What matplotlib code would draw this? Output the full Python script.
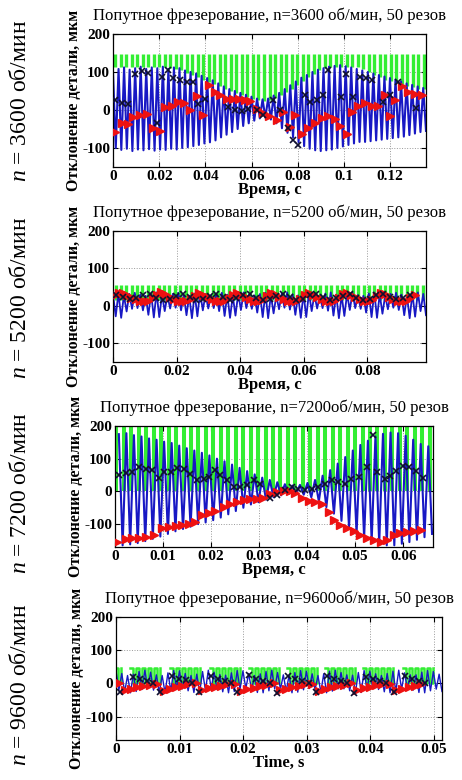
import matplotlib
matplotlib.use("Agg")
import matplotlib.pyplot as plt
import numpy as np

plt.rcParams["font.family"] = ["Liberation Serif", "DejaVu Serif"]
plt.rcParams["mathtext.fontset"] = "custom"
plt.rcParams["mathtext.rm"] = "Liberation Serif"
plt.rcParams["mathtext.it"] = "Liberation Serif:italic"

W, H = 462, 780

# common axis ticks
y_ticks = [-100, 0, 100, 200]
y_tick_labels = ["-100", "0", "100", "200"]

# ---------- panel 1: n = 3600 ----------
p1_blue_hi = [100, 108, 112, 106, 110, 114, 108, 112, 110, 114, 108, 112, 110,
              104, 100, 96, 90, 84, 78, 70, 62, 55, 50, 45, 40, 35, 30, 28, 30,
              38, 45, 55, 65, 75, 85, 92, 100, 106, 110, 114, 116, 118, 115, 112, 108,
              104, 100, 96, 92, 88, 84, 80, 75, 70, 66, 62, 58]
p1_blue_lo = [-100, -105, -102, -108, -104, -106, -103, -107, -104, -105, -102, -104, -100,
              -98, -95, -92, -88, -85, -80, -72, -65, -58, -50, -42, -35, -28, -22, -20, -25,
              -35, -48, -60, -72, -85, -95, -102, -106, -108, -106, -104, -100, -96, -92, -88, -84,
              -84, -82, -80, -78, -76, -74, -72, -70, -66, -62, -58, -55]
p1_green_top = 148
p1_green_lo = [112, 112, 112, 112, 112, 112, 112, 112, 112, 112, 110, 108, 104,
               98, 92, 86, 80, 74, 68, 62, 56, 50, 45, 40, 35, 30, 26, 24, 26,
               32, 40, 48, 56, 66, 76, 86, 96, 104, 110, 112, 112, 112, 112, 112, 112,
               108, 100, 92, 86, 80, 76, 72, 68, 64, 60, 56, 54]
p1_red_t = [0.0009, 0.0038, 0.0066, 0.0088, 0.0117, 0.0146, 0.0175, 0.0203, 0.0225, 0.0254,
            0.0283, 0.0309, 0.0333, 0.0362, 0.0391, 0.0417, 0.0442, 0.0463, 0.0492, 0.0521,
            0.0547, 0.0571, 0.0593, 0.0622, 0.0651, 0.0677, 0.0709, 0.0737, 0.0766, 0.0788,
            0.0817, 0.0846, 0.0874, 0.0903, 0.0932, 0.0961, 0.0983, 0.1012, 0.1033, 0.1062,
            0.1091, 0.1120, 0.1149, 0.1177, 0.1199, 0.1221, 0.1250, 0.1279, 0.1307, 0.1336]
p1_red_v = [-59, -35, -37, -19, -13, -10, -48, -55, 9, 10,
            22, 19, 0, 37, -13, 65, 48, 39, 30, 29,
            28, 27, 24, 2, -9, -16, -26, -4, -45, -14,
            -63, -48, -35, -22, -17, -24, -42, -63, -4, 10,
            19, 10, 10, 39, -17, 26, 63, 48, 42, 39]
p1_x_t = [0.0009, 0.0037, 0.0066, 0.0095, 0.0124, 0.0153, 0.0189, 0.0211, 0.0240, 0.0261,
          0.0290, 0.0319, 0.0345, 0.0370, 0.0398, 0.0499, 0.0528, 0.0557, 0.0586, 0.0622,
          0.0650, 0.0694, 0.0723, 0.0759, 0.0781, 0.0802, 0.0831, 0.0853, 0.0881, 0.0910,
          0.0932, 0.0988, 0.1010, 0.1040, 0.1068, 0.1097, 0.1120, 0.1168, 0.1197, 0.1232,
          0.1312]
p1_x_v = [26, 19, 17, 95, 102, 97, -35, 87, 106, 84,
          78, 74, 74, 17, 30, 9, 0, -2, 2, 0,
          -13, 26, 0, -48, -78, -91, 39, 22, 26, 39,
          106, 35, 95, 35, 88, 84, 78, 22, 39, 73,
          4]

# ---------- panel 2: n = 5200 ----------
p2_blue_hi = [30, 34, 28, 32, 35, 30, 27,
              33, 36, 30, 28, 32, 35, 29,
              27, 33, 36, 31, 28, 32, 35,
              30, 27, 33, 36, 30, 28, 32,
              35, 29, 27, 33, 36, 31, 28,
              32, 35, 30, 27, 33, 36, 30,
              28, 32, 35, 29, 27, 33, 36,
              31, 28, 32, 35, 30, 27, 33,
              36, 32]
p2_blue_lo = [-28, -32, -15, -8, -6, -12, -24,
              -31, -30, -14, -7, -5, -12, -25,
              -33, -28, -12, -7, -6, -14, -27,
              -32, -26, -11, -6, -8, -18, -30,
              -33, -20, -9, -5, -10, -24, -32,
              -30, -14, -7, -6, -13, -26, -33,
              -27, -11, -6, -8, -18, -30, -32,
              -21, -9, -5, -11, -25, -33, -29,
              -14, -25]
p2_green_top = 56
p2_green_lo = 15
p2_green_count = 58
p2_red_v = [28, 34, 35, 28, 22, 17, 13, 12, 14, 20, 28, 36, 31, 25, 19, 14, 12, 13,
            18, 27, 35, 30, 24, 18, 14, 12, 14, 20, 30, 35, 29, 23, 17, 13, 12, 16,
            26, 35, 31, 25, 19, 14, 12, 13, 18, 28, 35, 30, 24, 18, 14, 12, 14, 22,
            32, 35, 29, 23, 17, 13, 12, 16, 26, 35, 31, 25, 19, 14, 12, 14, 22, 30]
p2_x_v = [30, 25, 18, 20, 28, 33, 22, 15, 18, 26, 32, 24, 16, 19, 27, 31, 23, 15,
          20, 28, 33, 22, 16, 18, 27, 32, 24, 15, 19, 28, 33, 23, 16, 20, 27, 31,
          22, 15, 19, 28, 32, 24, 17, 21, 29]

# ---------- panel 3: n = 7200 ----------
p3_blue_hi = [175, 178, 172, 168, 162, 158, 152, 148, 140, 132,
              125, 118, 110, 100, 92, 82, 72, 62, 52, 42,
              35, 28, 22, 18, 20, 26, 35, 48, 65, 85,
              105, 125, 142, 155, 168, 176, 180, 178, 170, 158,
              145, 138]
p3_blue_lo = [-165, -162, -158, -152, -145, -138, -130, -122, -115, -108,
              -100, -95, -88, -80, -70, -60, -50, -40, -33, -25,
              -18, -12, -8, -6, -10, -18, -30, -48, -68, -90,
              -110, -128, -142, -152, -160, -165, -165, -160, -155, -148,
              -140, -130]
p3_green_top = 215
p3_green_lo = 0
p3_green_count = 43
p3_red_t = [0.0005, 0.0022, 0.0036, 0.0050, 0.0064, 0.0081, 0.0098, 0.0112, 0.0126, 0.0140,
            0.0154, 0.0167, 0.0181, 0.0195, 0.0209, 0.0226, 0.0240, 0.0254, 0.0268, 0.0281,
            0.0295, 0.0309, 0.0323, 0.0338, 0.0352, 0.0365, 0.0375, 0.0389, 0.0403, 0.0417,
            0.0431, 0.0445, 0.0455, 0.0469, 0.0483, 0.0497, 0.0511, 0.0525, 0.0539, 0.0553,
            0.0566, 0.0580, 0.0594, 0.0608, 0.0622, 0.0638]
p3_red_v = [-156, -146, -144, -143, -138, -132, -112, -108, -105, -103,
            -100, -94, -71, -66, -61, -49, -38, -33, -25, -22,
            -24, -20, -9, -2, 1, 2, -5, -20, -28, -32,
            -38, -62, -88, -102, -112, -122, -133, -143, -150, -155,
            -150, -133, -128, -125, -122, -117]
p3_x_t = [0.0008, 0.0022, 0.0036, 0.0050, 0.0064, 0.0078, 0.0091, 0.0102, 0.0116, 0.0129,
          0.0143, 0.0157, 0.0171, 0.0185, 0.0195, 0.0209, 0.0219, 0.0233, 0.0247, 0.0261,
          0.0275, 0.0289, 0.0302, 0.0323, 0.0337, 0.0354, 0.0368, 0.0382, 0.0396, 0.0410,
          0.0423, 0.0437, 0.0451, 0.0465, 0.0479, 0.0492, 0.0508, 0.0524, 0.0537, 0.0546,
          0.0562, 0.0572, 0.0586, 0.0599, 0.0613, 0.0627, 0.0641]
p3_x_v = [51, 57, 59, 74, 69, 64, 41, 59, 59, 71,
          67, 54, 34, 39, 44, 64, 49, 34, 13, 13,
          20, 34, 23, -20, -12, 3, 13, 8, 3, 6,
          13, 23, 34, 30, 23, 39, 44, 75, 171, 60,
          38, 48, 63, 79, 74, 63, 42]

# ---------- panel 4: n = 9600 ----------
p4_blue_hi = [38, 30, 24, 28, 36, 40, 34, 26, 24, 32,
              39, 38, 30, 24, 28, 36, 40, 34, 27, 25,
              32, 39, 38, 30, 24, 29, 36, 40, 33, 26,
              25, 33, 39, 37, 29, 24, 29, 37, 40, 33,
              26, 25, 33, 39, 37, 29, 24, 30, 37, 40,
              32, 26, 26, 34, 39, 36, 28]
p4_blue_lo = [-20, -26, -28, -24, -18, -15, -20, -27, -28, -22,
              -16, -16, -22, -27, -27, -21, -15, -18, -25, -28,
              -24, -17, -15, -20, -27, -28, -22, -16, -17, -23,
              -28, -26, -19, -15, -19, -26, -28, -23, -16, -16,
              -22, -27, -27, -20, -15, -18, -25, -28, -24, -17,
              -15, -20, -27, -28, -22, -17, -24]
p4_green_top = 47
p4_green_lo = 0
p4_burst_start = [-0.0039, 0.0022, 0.0085, 0.0148, 0.0209, 0.0269, 0.0329, 0.0389, 0.0452]
p4_burst_spikes = 5
p4_burst_period = 0.00095
p4_red_start = [0.0004, 0.0065, 0.0126, 0.0187, 0.0248, 0.0309, 0.0370, 0.0431]
p4_red_step = 0.00098
p4_red_v = [[0, -20, -16, -12, -8, -4],
            [-2, -22, -17, -12, -7, -3],
            [0, -20, -15, -11, -7, -3],
            [-1, -22, -18, -13, -8, -4],
            [0, -21, -16, -11, -7, -2],
            [-1, -22, -17, -12, -8, -4],
            [0, -20, -15, -11, -6, -3],
            [-1, -21, -16, -12, -7, -3]]
p4_x_t = [0.0006, 0.0027, 0.0038, 0.0049, 0.0059, 0.0069, 0.0088, 0.0099, 0.0110, 0.0120,
          0.0131, 0.0149, 0.0160, 0.0171, 0.0181, 0.0190, 0.0210, 0.0221, 0.0232, 0.0242,
          0.0253, 0.0271, 0.0282, 0.0293, 0.0303, 0.0314, 0.0332, 0.0343, 0.0354, 0.0364,
          0.0375, 0.0393, 0.0404, 0.0415, 0.0425, 0.0437, 0.0455, 0.0466, 0.0477, 0.0487]
p4_x_v = [-27, 20, 12, 6, 0, -27, 24, 14, 9, 2,
          -26, 22, 13, 7, 0, -27, 25, 15, 8, 1,
          -28, 23, 12, 6, 0, -27, 24, 14, 8, 2,
          -28, 21, 13, 7, 1, -27, 22, 12, 6, 0]

BLUE = "#1818c4"
GREEN = "#33ee33"
RED = "#ee1111"

fig = plt.figure(figsize=(W / 100, H / 100), dpi=100)


def zigzag(hi, lo):
    return [v for pair in zip(hi, lo) for v in pair]


def make_axes(box, xlim, ylim, xticks, xlabels):
    left, top, right, bottom = box
    ax = fig.add_axes([left / W, 1 - bottom / H, (right - left) / W, (bottom - top) / H])
    ax.set_xlim(xlim)
    ax.set_ylim(ylim)
    ax.set_xticks(xticks)
    ax.set_xticklabels(xlabels)
    ax.set_yticks(y_ticks)
    ax.set_yticklabels(y_tick_labels)
    ax.set_axisbelow(True)
    ax.grid(True, ls=":", color="0.6", lw=0.7)
    ax.tick_params(direction="in", top=True, right=True, length=3.5, width=0.8,
                   labelsize=11, pad=2)
    for lab in ax.get_xticklabels() + ax.get_yticklabels():
        lab.set_fontweight("bold")
    for sp in ax.spines.values():
        sp.set_linewidth(0.9)
    return ax


def panel_text(box, n_label, title, xlabel, ylab_x, n_y):
    left, top, right, bottom = box
    cx = (left + right) / 2
    cy = (top + bottom) / 2
    fig.text(cx / W, 1 - (top - 18) / H, title, ha="center", va="center", fontsize=12)
    fig.text(cx / W, 1 - (bottom + 23) / H, xlabel, ha="center", va="center",
             fontsize=12, fontweight="bold")
    fig.text(ylab_x / W, 1 - cy / H, "Отклонение детали, мкм", rotation=90,
             ha="center", va="center", fontsize=11.5, fontweight="bold")
    fig.text(21 / W, 1 - n_y / H, n_label, rotation=90, ha="center", va="center", fontsize=17)


def draw_markers(ax, red_t, red_v, x_t, x_v):
    ax.plot(red_t, red_v, ">", color=RED, ms=6, mec=RED, zorder=3)
    ax.plot(x_t, x_v, "x", color="#101030", ms=4.5, mew=1.2, zorder=4)


# ---- panel 1 ----
box1 = (113, 34, 426, 167)
ax1 = make_axes(box1, (0, 0.1355), (-150, 200), [0, 0.02, 0.04, 0.06, 0.08, 0.1, 0.12],
                ["0", "0.02", "0.04", "0.06", "0.08", "0.1", "0.12"])
ax1.vlines(np.linspace(0.0010, 0.1345, len(p1_green_lo)), p1_green_lo, p1_green_top,
           color=GREEN, lw=2.4, zorder=1)
y1 = zigzag(p1_blue_hi, p1_blue_lo)
ax1.plot(np.linspace(0, 0.1355, len(y1)), y1, color=BLUE, lw=1.5, zorder=2)
draw_markers(ax1, p1_red_t, p1_red_v, p1_x_t, p1_x_v)
panel_text(box1, "$n$ = 3600 об/мин", "Попутное фрезерование, n=3600 об/мин, 50 резов",
           "Время, с", 74, 101)

# ---- panel 2 ----
box2 = (113, 231, 426, 362)
ax2 = make_axes(box2, (0, 0.0985), (-150, 200), [0, 0.02, 0.04, 0.06, 0.08],
                ["0", "0.02", "0.04", "0.06", "0.08"])
ax2.vlines(np.linspace(0.0008, 0.0975, p2_green_count), p2_green_lo, p2_green_top,
           color=GREEN, lw=2.4, zorder=1)
y2 = zigzag(p2_blue_hi, p2_blue_lo)
ax2.plot(np.linspace(0, 0.0985, len(y2)), y2, color=BLUE, lw=1.3, zorder=2)
draw_markers(ax2, np.linspace(0.0005, 0.0949, len(p2_red_v)), p2_red_v,
             np.linspace(0.0010, 0.0934, len(p2_x_v)), p2_x_v)
panel_text(box2, "$n$ = 5200 об/мин", "Попутное фрезерование, n=5200 об/мин, 50 резов",
           "Время, с", 74, 298)

# ---- panel 3 ----
box3 = (115, 426, 433, 547)
ax3 = make_axes(box3, (0, 0.0662), (-170, 200), [0, 0.01, 0.02, 0.03, 0.04, 0.05, 0.06],
                ["0", "0.01", "0.02", "0.03", "0.04", "0.05", "0.06"])
ax3.vlines(np.linspace(0.0003, 0.0655, p3_green_count), p3_green_lo, p3_green_top,
           color=GREEN, lw=2.9, zorder=1)
y3 = zigzag(p3_blue_hi, p3_blue_lo)
ax3.plot(np.linspace(0.0008, 0.0660, len(y3)), y3, color=BLUE, lw=1.5, zorder=2)
draw_markers(ax3, p3_red_t, p3_red_v, p3_x_t, p3_x_v)
panel_text(box3, "$n$ = 7200 об/мин", "Попутное фрезерование, n=7200об/мин, 50 резов",
           "Время, с", 76, 493)

# ---- panel 4 ----
box4 = (116, 617, 442, 740)
ax4 = make_axes(box4, (0, 0.0513), (-170, 200), [0, 0.01, 0.02, 0.03, 0.04, 0.05],
                ["0", "0.01", "0.02", "0.03", "0.04", "0.05"])
for s in p4_burst_start:
    bt = s + np.arange(2 * p4_burst_spikes + 1) * p4_burst_period / 2
    bv = [p4_green_top if k % 2 == 0 else p4_green_lo for k in range(len(bt))]
    ax4.plot(bt, bv, color=GREEN, lw=1.8, drawstyle="steps-post", zorder=1)
y4 = zigzag(p4_blue_hi, p4_blue_lo)
ax4.plot(np.linspace(0, 0.0513, len(y4)), y4, color=BLUE, lw=1.0, zorder=2)
red4_t = [s + k * p4_red_step for s, grp in zip(p4_red_start, p4_red_v) for k in range(len(grp))]
red4_v = [v for grp in p4_red_v for v in grp]
draw_markers(ax4, red4_t, red4_v, p4_x_t, p4_x_v)
panel_text(box4, "$n$ = 9600 об/мин", "Попутное фрезерование, n=9600об/мин, 50 резов",
           "Time, s", 77, 685)

fig.savefig("out.png", dpi=100)
